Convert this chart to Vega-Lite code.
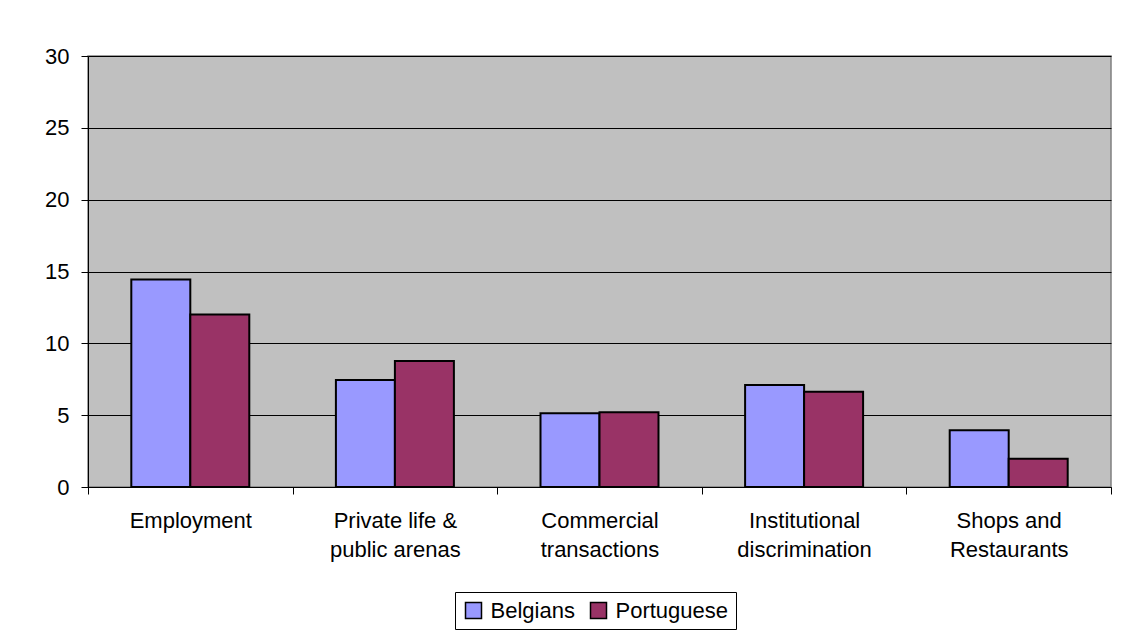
{
  "$schema": "https://vega.github.io/schema/vega-lite/v6.json",
  "autosize": {"type": "none"},
  "width": 1023,
  "height": 431,
  "padding": {"left": 88, "top": 56, "right": 21, "bottom": 155},
  "background": "white",
  "data": {
    "values": [
      {"category": "Employment", "group": "Belgians", "value": 14.45},
      {"category": "Employment", "group": "Portuguese", "value": 12.0},
      {"category": "Private life & public arenas", "group": "Belgians", "value": 7.45},
      {"category": "Private life & public arenas", "group": "Portuguese", "value": 8.77},
      {"category": "Commercial transactions", "group": "Belgians", "value": 5.13},
      {"category": "Commercial transactions", "group": "Portuguese", "value": 5.2},
      {"category": "Institutional discrimination", "group": "Belgians", "value": 7.1},
      {"category": "Institutional discrimination", "group": "Portuguese", "value": 6.63},
      {"category": "Shops and Restaurants", "group": "Belgians", "value": 3.95},
      {"category": "Shops and Restaurants", "group": "Portuguese", "value": 1.97}
    ]
  },
  "mark": {"type": "bar", "stroke": "black", "strokeWidth": 2},
  "encoding": {
    "x": {
      "field": "category",
      "type": "nominal",
      "sort": null,
      "scale": {"paddingInner": 0, "paddingOuter": 0},
      "axis": {
        "title": null,
        "labelAngle": 0,
        "tickBand": "extent",
        "grid": false,
        "domainColor": "black",
        "domainWidth": 1,
        "tickColor": "black",
        "tickSize": 7,
        "labelPadding": 16,
        "labelFont": "Liberation Sans",
        "labelFontSize": 22,
        "labelColor": "black",
        "labelLineHeight": 29,
        "labelBaseline": "top",
        "labelExpr": "datum.label == 'Private life & public arenas' ? ['Private life &', 'public arenas'] : datum.label == 'Commercial transactions' ? ['Commercial', 'transactions'] : datum.label == 'Institutional discrimination' ? ['Institutional', 'discrimination'] : datum.label == 'Shops and Restaurants' ? ['Shops and', 'Restaurants'] : datum.label"
      }
    },
    "xOffset": {
      "field": "group",
      "type": "nominal",
      "scale": {"paddingInner": 0, "paddingOuter": 0.734}
    },
    "y": {
      "field": "value",
      "type": "quantitative",
      "scale": {"domain": [0, 30], "nice": false},
      "axis": {
        "title": null,
        "values": [0, 5, 10, 15, 20, 25, 30],
        "grid": true,
        "gridColor": "black",
        "gridWidth": 1,
        "domainColor": "black",
        "tickColor": "black",
        "tickSize": 7,
        "labelPadding": 12,
        "labelFont": "Liberation Sans",
        "labelFontSize": 22,
        "labelColor": "black"
      }
    },
    "color": {
      "field": "group",
      "type": "nominal",
      "scale": {"domain": ["Belgians", "Portuguese"], "range": ["#9999FF", "#993366"]},
      "legend": {
        "title": null,
        "orient": "none",
        "legendX": 367,
        "legendY": 536,
        "direction": "horizontal",
        "strokeColor": "black",
        "padding": 7.5,
        "symbolType": "square",
        "symbolSize": 256,
        "symbolStrokeColor": "black",
        "symbolStrokeWidth": 1.5,
        "symbolOpacity": 1,
        "labelFont": "Liberation Sans",
        "labelFontSize": 22,
        "labelColor": "black",
        "labelOffset": 6,
        "columnPadding": 12
      }
    }
  },
  "config": {
    "view": {"fill": "#C0C0C0", "stroke": "#808080", "strokeWidth": 1.5},
    "axis": {"domainWidth": 1}
  }
}
